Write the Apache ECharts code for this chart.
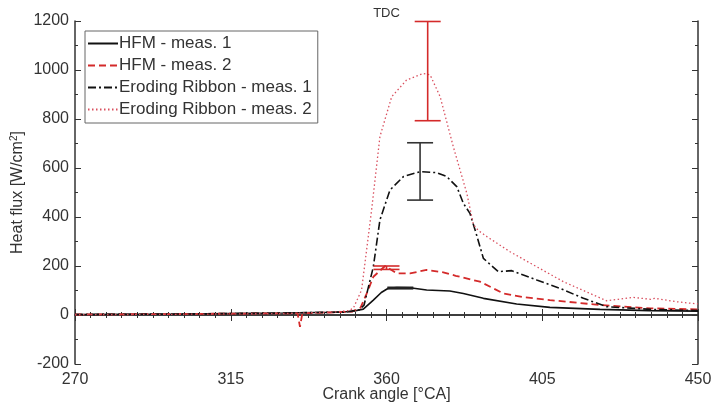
<!DOCTYPE html>
<html>
<head>
<meta charset="utf-8">
<script src="https://cdn.jsdelivr.net/npm/echarts@6/dist/echarts.min.js"></script>
<style>
  html, body { margin: 0; padding: 0; background: #fff; }
  #chart { width: 712px; height: 407px; }
</style>
</head>
<body>
<div id="chart"></div>
<script>
  // ===== 数据 =====
  const seriesNames = ["HFM - meas. 1", "HFM - meas. 2", "Eroding Ribbon - meas. 1", "Eroding Ribbon - meas. 2"];

  const hfm1 = [
    [270, 2], [300, 4], [330, 8], [345, 11], [350, 14], [353.3, 24], [356.2, 61], [358.5, 92],
    [360.5, 109], [363, 112], [366.8, 111], [371.6, 102], [378.3, 98], [382.2, 88], [388, 68],
    [397.6, 45], [407.2, 31], [421.7, 23], [436, 18], [450, 16]
  ];
  const hfm2 = [
    [270, 2], [300, 4], [330, 7], [334.3, 7], [335, -48], [335.7, 7], [345, 11], [350, 14],
    [352.5, 30], [354.3, 88], [356.2, 156], [359.6, 200], [363, 170], [366.8, 170], [371.6, 184],
    [376.4, 174], [380, 160], [387, 136], [393.8, 88], [400, 72], [407.2, 61], [421.7, 41],
    [436.3, 27], [450, 23]
  ];
  const ribbon1 = [
    [270, 2], [300, 4], [330, 8], [348, 12], [352, 20], [353.5, 40], [356.2, 197], [358.1, 388],
    [361, 510], [364.9, 565], [369.7, 585], [374.5, 581], [377.4, 565], [380.3, 524], [382.2, 456],
    [384.1, 415], [385.6, 347], [388, 231], [392.3, 177], [396.2, 181], [403.4, 143], [410.1, 109],
    [416.9, 68], [423.6, 34], [436.3, 23], [450, 18]
  ];
  const ribbon2 = [
    [270, 1], [300, 3], [330, 6], [345, 12], [349, 18], [350.4, 27], [352.8, 102], [355.7, 429],
    [358.1, 728], [361.5, 891], [365.8, 959], [370.6, 986], [372.6, 980], [375.5, 891],
    [379.3, 687], [383.2, 497], [385.1, 370], [386.5, 345], [389, 320], [395.7, 258], [403.4, 197],
    [411.1, 136], [418.8, 88], [423.6, 58], [427, 64], [431.3, 72], [436.3, 64], [437.5, 68],
    [443.8, 54], [450, 45]
  ];

  // 误差棒: [x, 下限, 上限]
  const errHfm1 = [[364, 107, 113]];
  const errHfm2 = [[360, 186, 200]];
  const errRibbon1 = [[369.7, 469, 703]];
  const errRibbon2 = [[371.9, 793, 1198]];

  const xTicks = [270, 315, 360, 405, 450];
  const yTicks = [-200, 0, 200, 400, 600, 800, 1000, 1200];
  const tdcAngle = 360;

  // ===== 样式 =====
  const FONT = "Liberation Sans, Arial, sans-serif";
  const AXIS = "#333";
  const RED = "#d42a2a";
  const PINK = "#d9505f";

  function errBar(data, color) {
    return {
      type: "custom", data: data, xAxisIndex: 0, yAxisIndex: 0, clip: false, silent: true, z: 5,
      encode: { x: 0, y: [1, 2] },
      renderItem: function (params, api) {
        const lo = api.coord([api.value(0), api.value(1)]);
        const hi = api.coord([api.value(0), api.value(2)]);
        const w = 13;
        const st = { stroke: color, lineWidth: 1.6 };
        return {
          type: "group",
          children: [
            { type: "line", shape: { x1: lo[0], y1: lo[1], x2: hi[0], y2: hi[1] }, style: st },
            { type: "line", shape: { x1: lo[0] - w, y1: lo[1], x2: lo[0] + w, y2: lo[1] }, style: st },
            { type: "line", shape: { x1: hi[0] - w, y1: hi[1], x2: hi[0] + w, y2: hi[1] }, style: st },
          ],
        };
      },
    };
  }

  function lineSeries(name, data, color, type, width) {
    return {
      name: name, type: "line", data: data, symbol: "none", showSymbol: false,
      xAxisIndex: 0, yAxisIndex: 0, animation: false,
      lineStyle: { color: color, type: type, width: width },
      itemStyle: { color: color },
    };
  }

  const chart = echarts.init(document.getElementById("chart"));
  const baseX = {
    type: "value", min: xTicks[0], max: xTicks[xTicks.length - 1], interval: 45,
    axisLine: { show: true, lineStyle: { color: AXIS, width: 1.5 } },
    axisTick: { show: true, inside: true, length: 6, lineStyle: { color: AXIS } },
    minorTick: { show: true, splitNumber: 10, length: 3, lineStyle: { color: AXIS } },
    splitLine: { show: false },
  };
  const baseY = {
    type: "value", min: yTicks[0], max: yTicks[yTicks.length - 1], interval: 200,
    axisLine: { show: true, onZero: false, lineStyle: { color: AXIS, width: 1.5 } },
    axisTick: { show: true, inside: true, length: 6, lineStyle: { color: AXIS } },
    minorTick: { show: true, splitNumber: 2, length: 3, lineStyle: { color: AXIS } },
    splitLine: { show: false },
  };

  chart.setOption({
    animation: false,
    textStyle: { fontFamily: FONT },
    grid: { left: 75, right: 14, top: 21, bottom: 43, outerBoundsMode: "none", containLabel: false },
    legend: {
      orient: "vertical", left: 85, top: 31,
      data: seriesNames,
      itemWidth: 30, itemHeight: 14, itemGap: 5,
      padding: [4, 6, 5, 2],
      itemStyle: { opacity: 0 },
      borderColor: "#666", borderWidth: 1, backgroundColor: "#fff",
      textStyle: { fontFamily: FONT, fontSize: 17, color: "#333", padding: [0, 0, 0, -4] },
    },
    xAxis: [
      Object.assign({}, baseX, {
        position: "bottom",
        axisLabel: { show: true, color: AXIS, fontSize: 16, fontFamily: FONT, margin: 8 },
        name: "Crank angle [\u00b0CA]", nameLocation: "middle", nameGap: 23, nameMoveOverlap: false,
        nameTextStyle: { color: AXIS, fontSize: 16, fontFamily: FONT },
      }),
      Object.assign({}, baseX, {
        position: "top",
        axisLabel: {
          show: true, color: AXIS, fontSize: 13, fontFamily: FONT, margin: 1,
          formatter: v => (v === tdcAngle ? "TDC" : ""),
        },
      }),
    ],
    yAxis: [
      Object.assign({}, baseY, {
        position: "left",
        axisLabel: { show: true, color: AXIS, fontSize: 16, fontFamily: FONT, margin: 6, formatter: v => String(v) },
        name: "Heat flux [W/cm{sup|2}]", nameLocation: "middle", nameGap: 48, nameRotate: 90, nameMoveOverlap: false,
        nameTextStyle: {
          color: AXIS, fontSize: 16, fontFamily: FONT,
          rich: { sup: { fontSize: 10, color: AXIS, fontFamily: FONT, verticalAlign: "bottom", padding: [0, 0, 8, 0] } },
        },
      }),
      Object.assign({}, baseY, { position: "right", axisLabel: { show: false } }),
    ],
    series: [
      lineSeries(seriesNames[0], hfm1, "#111", "solid", 1.6),
      lineSeries(seriesNames[1], hfm2, RED, [7, 4], 1.8),
      lineSeries(seriesNames[2], ribbon1, "#111", [8, 3, 2, 3], 1.6),
      lineSeries(seriesNames[3], ribbon2, PINK, [1.5, 2.5], 1.3),
      errBar(errHfm1, "#222"),
      errBar(errHfm2, RED),
      errBar(errRibbon1, "#333"),
      errBar(errRibbon2, RED),
    ],
  });
</script>
</body>
</html>
